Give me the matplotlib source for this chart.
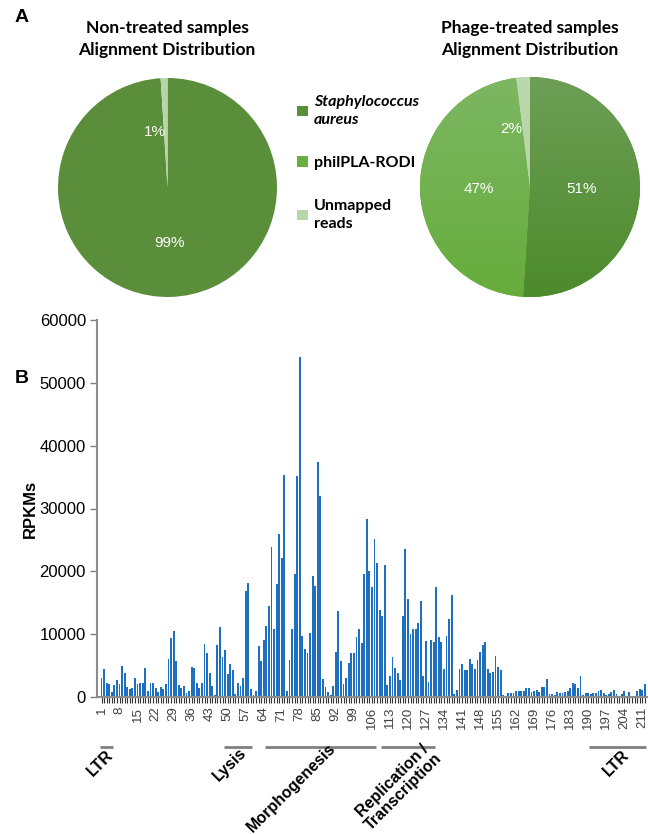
import numpy as np
import matplotlib
matplotlib.use('Agg')
import matplotlib.pyplot as plt
from matplotlib.patches import Patch
from matplotlib.colors import LinearSegmentedColormap
import matplotlib.transforms as mtransforms

# ---------------- data ----------------
pie_categories = ['Staphylococcus\naureus', 'philPLA-RODI', 'Unmapped\nreads']
nontreated_pct = [99, 0, 1]
phage_pct = [51, 47, 2]

rpkm = [3000, 4500, 2300, 2100, 800, 1850, 2650, 2000, 5000, 3800,
        1600, 1200, 1500, 3100, 2000, 2150, 2200, 4550, 950, 2300,
        2200, 1400, 800, 1600, 1300, 2100, 6000, 9400, 10500, 5700,
        1900, 1400, 1800, 600, 950, 4700, 4550, 2300, 1400, 2200,
        8400, 7000, 3750, 1750, 300, 8250, 11100, 6400, 7450, 3650,
        5250, 4300, 500, 2200, 1700, 3000, 16800, 18100, 1270, 300,
        1000, 8100, 5800, 9050, 11300, 14450, 23950, 10750, 17950, 26000,
        22200, 35350, 950, 5870, 10750, 19600, 35200, 54100, 9700, 7700,
        7000, 10250, 19300, 17700, 37350, 32060, 2800, 1640, 740, 320,
        1800, 7200, 13700, 5800, 2100, 3100, 5340, 6930, 6980, 9470,
        10900, 8620, 19520, 28360, 20050, 17460, 25080, 21320, 13860, 12900,
        20950, 1850, 3370, 6420, 4650, 3760, 2750, 12860, 23600, 15560,
        9950, 10900, 10900, 11800, 15240, 3330, 8900, 2430, 9000, 8680,
        17570, 9520, 8730, 4440, 9630, 12380, 16300, 530, 1160, 4400,
        5240, 4290, 4290, 5980, 5240, 4390, 5870, 7140, 8200, 8730,
        4440, 3760, 3920, 6510, 4710, 4290, 320, 210, 580, 580,
        580, 1000, 900, 900, 950, 1480, 1480, 740, 950, 1060,
        790, 1640, 1640, 2800, 480, 420, 370, 740, 630, 690,
        790, 950, 1380, 2170, 2010, 1430, 3390, 320, 580, 580,
        480, 630, 580, 1000, 1060, 580, 370, 480, 740, 1160,
        530, 160, 530, 950, 160, 740, 160, 210, 950, 1220,
        1160, 2060]

y_ticks = [0, 10000, 20000, 30000, 40000, 50000, 60000]
tick_step = 7

groups = ['LTR', 'Lysis', 'Morphogenesis', 'Replication /\nTranscription', 'LTR']
group_start = [1, 49, 65, 110, 191]
group_end = [5, 59, 107, 130, 212]

# ---------------- style ----------------
W, H = 648, 834
fig = plt.figure(figsize=(6.48, 8.34), dpi=100)


def px(x, y, w, h):
    return [x / W, 1 - (y + h) / H, w / W, h / H]


solid = ['#5B8E3B', '#6CAD42', '#B7D5A8']
grad_top = ['#6E9F58', '#7DB763', '#BCD8AE']
grad_bot = ['#4C8A2A', '#66AC3B', '#B3D3A3']
title_font = dict(family='Lato', weight='bold', size=12.5)
pct_font = dict(family='Liberation Sans', size=11, color='white')

# ---------------- Panel A ----------------
fig.text(15 / W, 1 - 18 / H, 'A', family='Liberation Sans', weight='bold',
         size=14, va='center', ha='left')

fig.text(167 / W, 1 - 39 / H, 'Non-treated samples\nAlignment Distribution',
         ha='center', va='center', linespacing=1.4, **title_font)
fig.text(530 / W, 1 - 39 / H, 'Phage-treated samples\nAlignment Distribution',
         ha='center', va='center', linespacing=1.4, **title_font)

# left pie
axl = fig.add_axes(px(58, 78, 219, 219))
vals_l = [v for v in nontreated_pct if v > 0]
cols_l = [c for v, c in zip(nontreated_pct, solid) if v > 0]
wl, tl, al = axl.pie(vals_l, colors=cols_l, startangle=90, counterclock=False,
                     autopct=lambda p: f'{p:.0f}%', pctdistance=0.51,
                     wedgeprops=dict(linewidth=0), textprops=pct_font)
ang = np.deg2rad(103)
al[-1].set_position((0.52 * np.cos(ang), 0.52 * np.sin(ang)))
axl.set_xlim(-1, 1)
axl.set_ylim(-1, 1)
axl.set_aspect('equal')

# right pie
axr = fig.add_axes(px(420, 77, 220, 220))
wr, tr, ar = axr.pie(phage_pct, colors=solid, startangle=90, counterclock=False,
                     autopct=lambda p: f'{p:.0f}%', pctdistance=0.47,
                     wedgeprops=dict(linewidth=0), textprops=pct_font)
grad = np.linspace(0, 1, 256).reshape(-1, 1)
for w, ctop, cbot in zip(wr, grad_top, grad_bot):
    cmap = LinearSegmentedColormap.from_list('g', [cbot, ctop])
    im = axr.imshow(grad, cmap=cmap, extent=[-1.05, 1.05, -1.05, 1.05],
                    origin='lower', aspect='auto', zorder=1.5)
    im.set_clip_path(w)
for t in ar:
    t.set_zorder(5)
ang = np.deg2rad(108)
ar[-1].set_position((0.55 * np.cos(ang), 0.55 * np.sin(ang)))
axr.set_xlim(-1, 1)
axr.set_ylim(-1, 1)
axr.set_aspect('equal')
axr.axis('off')

# legend
handles = [Patch(facecolor=c, edgecolor='none') for c in solid]
leg = fig.legend(handles, pie_categories, loc='center left',
                 bbox_to_anchor=(283 / W, 1 - 163 / H), frameon=False,
                 handlelength=0.65, handleheight=0.65, handletextpad=0.4,
                 labelspacing=1.8,
                 prop=dict(family='Lato', weight='bold', size=11.5))
for t in leg.get_texts():
    t.set_linespacing(1.4)
leg.get_texts()[0].set_style('italic')

# ---------------- Panel B ----------------
fig.text(15 / W, 1 - 378 / H, 'B', family='Liberation Sans', weight='bold',
         size=14, va='center', ha='left')

axb = fig.add_axes(px(97, 320, 551, 377))
x = np.arange(1, len(rpkm) + 1)
axb.bar(x, rpkm, width=0.72, color='#1F6FC0', edgecolor='none')
axb.set_xlim(-0.75, -0.75 + 551 / 2.575)
axb.set_ylim(0, 60000)
axb.set_yticks(y_ticks)
axb.set_yticklabels([str(v) for v in y_ticks], family='Liberation Sans',
                    size=12, color='#000000')
axb.set_xticks(x)
axb.set_xticklabels([str(i) if (i - 1) % tick_step == 0 else '' for i in x],
                    rotation=90, family='Liberation Sans', size=9.5,
                    color='#404040')
axb.tick_params(axis='x', length=4, width=0.8, color='#333333', pad=3)
axb.tick_params(axis='y', length=5, width=1.0, color='#7f7f7f', pad=3)
for s in ['top', 'right']:
    axb.spines[s].set_visible(False)
for s in ['left', 'bottom']:
    axb.spines[s].set_color('#8c8c8c')
    axb.spines[s].set_linewidth(1.5)

fig.text(30 / W, 1 - 509 / H, 'RPKMs', rotation=90, family='Liberation Sans',
         weight='bold', size=12, ha='center', va='center')

# annotation lines
trans = mtransforms.blended_transform_factory(axb.transData, axb.transAxes)
line_y = (697 - 747) / 377
for gs, ge in zip(group_start, group_end):
    axb.plot([gs - 0.5, ge + 0.5], [line_y, line_y], transform=trans,
             color='#808080', linewidth=2, clip_on=False,
             solid_capstyle='butt')

label_centers = [(100, 763), (230, 764), (291, 788), (398, 786), (616, 763)]
for g, (cx, cy) in zip(groups, label_centers):
    fig.text(cx / W, 1 - cy / H, g, rotation=45, ha='center', va='center',
             multialignment='center', family='Liberation Sans',
             weight='bold', size=11.5, linespacing=1.0)

fig.savefig('out.png', dpi=100)
